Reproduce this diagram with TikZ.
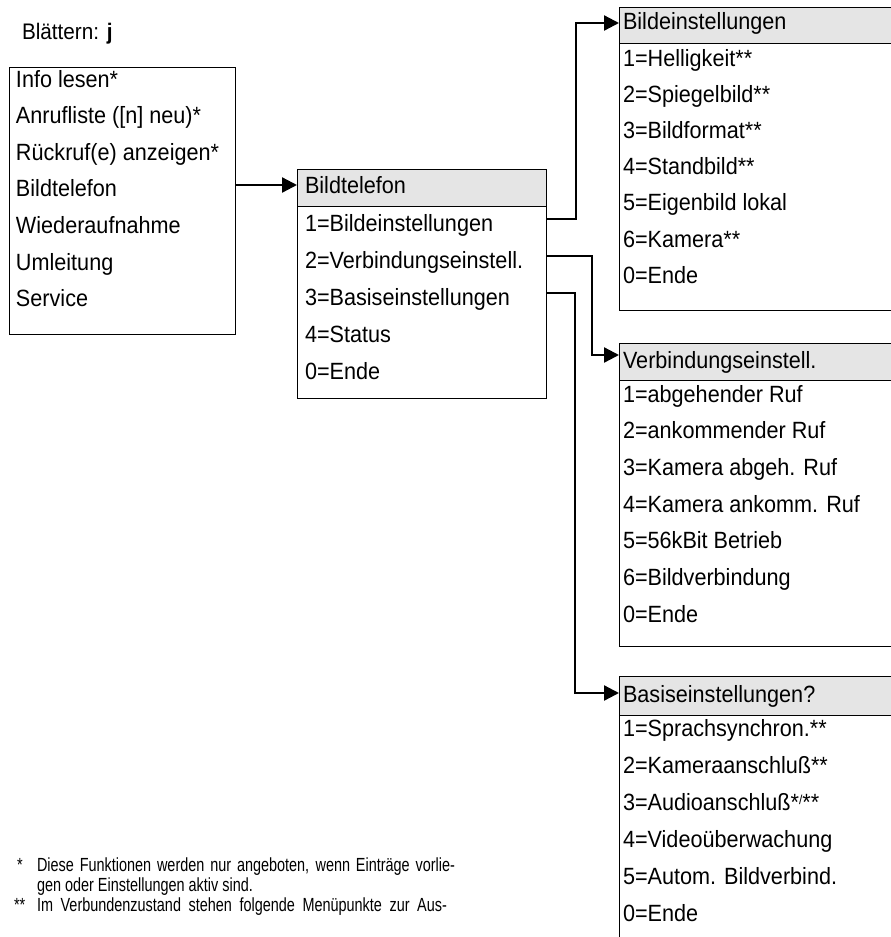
\documentclass[tikz,border=0pt]{standalone}
\usepackage{fontspec}
\setmainfont{Liberation Sans}[FakeStretch=0.92]
\newfontfamily\footf{Liberation Sans}[FakeStretch=0.76]
\usetikzlibrary{arrows.meta}
\tikzset{
  menubox/.style={draw, line width=0.8pt, inner sep=0pt, outer sep=0pt, anchor=north west},
  headbox/.style={menubox, fill=gray!20},
  item/.style={anchor=base west, inner sep=0pt, outer sep=0pt, font=\fontsize{23.5}{28}\selectfont},
  fn/.style={anchor=base west, inner sep=0pt, outer sep=0pt, font=\footf\fontsize{19}{21}\selectfont},
  conn/.style={line width=2.3pt, -{Triangle[length=15pt,width=15pt]}},
}
\begin{document}
\begin{tikzpicture}[x=1pt,y=-1pt]
\useasboundingbox (0,0) rectangle (891,937);
\clip (0,0) rectangle (891,937);

% title
\node[item, font=\fontsize{22.5}{27}\selectfont] (title) at (22,39) {Blättern: \textbf{j}};

% main menu
\node[menubox, minimum width=226pt, minimum height=267pt] (m1) at (9,67) {};
\node[item] (a1) at (16,87) {Info lesen*};
\node[item] (a2) at (16,123.6) {Anrufliste ([n] neu)*};
\node[item] (a3) at (16,160.2) {Rückruf(e) anzeigen*};
\node[item] (a4) at (16,196.8) {Bildtelefon};
\node[item] (a5) at (16,233.4) {Wiederaufnahme};
\node[item] (a6) at (16,270) {Umleitung};
\node[item] (a7) at (16,306.6) {Service};

% Bildtelefon menu
\node[menubox, minimum width=249pt, minimum height=229pt] (bt) at (297,169) {};
\node[headbox, minimum width=249pt, minimum height=37pt] (bth) at (297,169) {};
\node[item] (bth-t) at (305,193) {Bildtelefon};
\node[item] (b1) at (305,231) {1=Bildeinstellungen};
\node[item] (b2) at (305,268) {2=Verbindungseinstell.};
\node[item] (b3) at (305,305) {3=Basiseinstellungen};
\node[item] (b4) at (305,342) {4=Status};
\node[item] (b5) at (305,379) {0=Ende};

% Bildeinstellungen menu
\node[menubox, minimum width=300pt, minimum height=303pt] (bi) at (619,7) {};
\node[headbox, minimum width=300pt, minimum height=36pt] (bih) at (619,7) {};
\node[item] (bih-t) at (623,29) {Bildeinstellungen};
\node[item] (c1) at (623,66) {1=Helligkeit**};
\node[item] (c2) at (623,102.2) {2=Spiegelbild**};
\node[item] (c3) at (623,138.4) {3=Bildformat**};
\node[item] (c4) at (623,174.6) {4=Standbild**};
\node[item] (c5) at (623,210.8) {5=Eigenbild lokal};
\node[item] (c6) at (623,247) {6=Kamera**};
\node[item] (c7) at (623,283.2) {0=Ende};

% Verbindungseinstell. menu
\node[menubox, minimum width=300pt, minimum height=303pt] (vi) at (619,343) {};
\node[headbox, minimum width=300pt, minimum height=37pt] (vih) at (619,343) {};
\node[item] (vih-t) at (623,368) {Verbindungseinstell.};
\node[item] (d1) at (623,402) {1=abgehender Ruf};
\node[item] (d2) at (623,438.7) {2=ankommender Ruf};
\node[item] (d3) at (623,475.4) {3=Kamera abgeh. Ruf};
\node[item] (d4) at (623,512.1) {4=Kamera ankomm. Ruf};
\node[item] (d5) at (623,548.8) {5=56kBit Betrieb};
\node[item] (d6) at (623,585.5) {6=Bildverbindung};
\node[item] (d7) at (623,622.2) {0=Ende};

% Basiseinstellungen menu
\node[menubox, minimum width=300pt, minimum height=290pt] (ba) at (619,676) {};
\node[headbox, minimum width=300pt, minimum height=39pt] (bah) at (619,676) {};
\node[item] (bah-t) at (623,702) {Basiseinstellungen?};
\node[item] (e1) at (623,736) {1=Sprachsynchron.**};
\node[item] (e2) at (623,773) {2=Kameraanschluß**};
\node[item] (e3) at (623,810) {3=Audioanschluß*{\fontsize{13}{13}\selectfont\raisebox{6pt}{/}}**};
\node[item] (e4) at (623,847) {4=Videoüberwachung};
\node[item] (e5) at (623,884) {5=Autom. Bildverbind.};
\node[item] (e6) at (623,921) {0=Ende};

% connectors
\coordinate (t0) at ([yshift=2.5pt]bth.west);
\coordinate (t1) at ([yshift=2pt]bih.west);
\coordinate (t2) at ([yshift=6.5pt]vih.west);
\coordinate (t3) at ([yshift=2.5pt]bah.west);
\coordinate (s1) at ([yshift=12pt]b1.base);
\coordinate (s2) at ([yshift=12pt]b2.base);
\coordinate (s3) at ([yshift=12pt]b3.base);

\draw[conn] (m1.east |- t0) -- (t0);
\draw[conn] (bt.east |- s1) -- ++(30,0) |- (t1);
\draw[conn] (bt.east |- s2) -- ++(46,0) |- (t2);
\draw[conn] (bt.east |- s3) -- ++(29,0) |- (t3);

% footnotes
\node[fn] (f1s) at (17,871) {*};
\node[fn] (f1) at (37,871) {\makebox[418pt][s]{Diese Funktionen werden nur angeboten, wenn Einträge vorlie-}};
\node[fn] (f2) at (37,891) {gen oder Einstellungen aktiv sind.};
\node[fn] (f3s) at (14,911) {**};
\node[fn] (f3) at (37,911) {\makebox[410pt][s]{Im Verbundenzustand stehen folgende Menüpunkte zur Aus-}};
\end{tikzpicture}
\end{document}
